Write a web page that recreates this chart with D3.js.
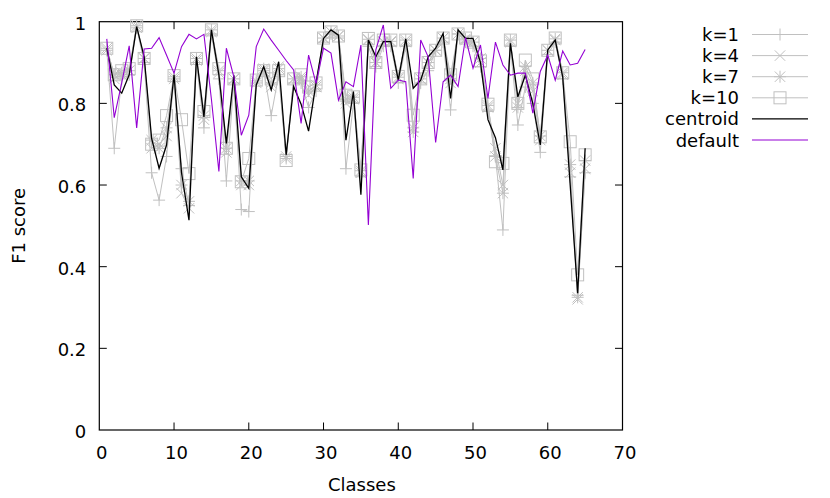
<!DOCTYPE html>
<html><head><meta charset="utf-8">
<script src="https://cdn.jsdelivr.net/npm/d3@7"></script>
<style>
body{margin:0;background:#fff;}
svg{display:block;font-family:"DejaVu Sans",sans-serif;}
</style></head>
<body><svg id="chart" width="830" height="498"></svg>
<script>
const classes = d3.range(1, 66);
const xTicks = [0,10,20,30,40,50,60,70];
const yTicks = [0,0.2,0.4,0.6,0.8,1];
const yTickLabels = ["0","0.2","0.4","0.6","0.8","1"];
const seriesNames = ["k=1","k=4","k=7","k=10","centroid","default"];

const k1 = [0.93,0.69,0.86,0.87,0.985,0.90,0.63,0.563,0.67,0.86,0.64,0.55,0.90,0.74,0.97,0.86,0.61,0.85,0.54,0.535,
0.85,0.88,0.77,0.87,0.67,0.85,0.85,0.79,0.83,0.95,0.97,0.96,0.64,0.80,0.62,0.94,0.89,0.94,0.94,0.85,
0.94,0.73,0.85,0.88,0.93,0.95,0.784,0.97,0.95,0.94,0.89,0.78,0.67,0.49,0.94,0.747,0.84,0.80,0.68,0.92,
0.95,0.86,0.62,0.33,0.63];
const k4 = [0.93,0.86,0.87,0.88,0.985,0.91,0.69,0.70,0.72,0.86,0.58,0.543,0.905,0.76,0.975,0.875,0.68,0.86,0.60,0.60,
0.85,0.88,0.84,0.89,0.67,0.86,0.86,0.82,0.84,0.96,0.975,0.965,0.80,0.81,0.63,0.955,0.90,0.95,0.95,0.86,
0.95,0.73,0.86,0.90,0.93,0.96,0.85,0.97,0.955,0.95,0.90,0.79,0.69,0.60,0.95,0.80,0.88,0.83,0.71,0.93,
0.955,0.87,0.63,0.32,0.64];
const k7 = [0.935,0.87,0.875,0.88,0.99,0.91,0.71,0.69,0.74,0.865,0.60,0.56,0.91,0.77,0.98,0.88,0.69,0.86,0.61,0.61,
0.855,0.885,0.85,0.885,0.665,0.86,0.865,0.83,0.845,0.96,0.975,0.965,0.81,0.815,0.635,0.957,0.90,0.952,0.952,0.864,
0.955,0.74,0.86,0.90,0.93,0.96,0.86,0.97,0.958,0.95,0.91,0.795,0.67,0.58,0.955,0.79,0.89,0.85,0.72,0.93,
0.958,0.875,0.65,0.325,0.66];
const k10 = [0.935,0.87,0.88,0.885,0.99,0.91,0.70,0.71,0.77,0.868,0.76,0.628,0.91,0.78,0.98,0.885,0.69,0.86,0.608,0.665,
0.857,0.88,0.86,0.88,0.66,0.86,0.87,0.84,0.85,0.96,0.975,0.965,0.82,0.816,0.637,0.959,0.90,0.955,0.955,0.866,
0.955,0.771,0.86,0.90,0.93,0.96,0.87,0.97,0.96,0.95,0.904,0.798,0.657,0.653,0.955,0.80,0.906,0.86,0.718,0.93,
0.96,0.875,0.706,0.38,0.674];
const centroid = [0.935,0.845,0.825,0.87,0.988,0.914,0.714,0.641,0.698,0.87,0.63,0.514,0.914,0.767,0.98,0.87,0.702,0.869,0.62,0.592,
0.845,0.89,0.833,0.902,0.674,0.841,0.798,0.732,0.85,0.959,0.98,0.967,0.71,0.829,0.576,0.955,0.914,0.951,0.951,0.857,
0.958,0.837,0.857,0.914,0.935,0.971,0.812,0.98,0.959,0.959,0.90,0.76,0.716,0.637,0.947,0.816,0.869,0.80,0.698,0.931,
0.955,0.865,0.60,0.335,0.69];
const defaultF1 = [0.958,0.765,0.85,0.941,0.74,0.933,0.935,0.961,0.918,0.874,0.939,0.969,0.958,0.969,0.81,0.633,0.935,0.865,0.722,0.771,
0.939,0.982,0.955,0.93,0.905,0.882,0.751,0.918,0.849,0.935,0.923,0.808,0.853,0.841,0.943,0.502,0.931,0.992,0.837,0.857,
0.853,0.616,0.955,0.914,0.704,0.853,0.869,0.841,0.961,0.886,0.943,0.812,0.95,0.894,0.869,0.874,0.874,0.776,0.878,0.918,
0.857,0.928,0.894,0.898,0.932];

const svg = d3.select("#chart");
const L = 99.3, R = 622.5, T = 21.7, B = 430;
const x = d3.scaleLinear().domain([0,70]).range([L,R]);
const y = d3.scaleLinear().domain([0,1]).range([B,T]);
const GRAY = "#c0c0c0", PURPLE = "#9400d3";
const FS = 18;

// axes ticks (inward, mirrored)
const tl = 7.5;
const g = svg.append("g").attr("stroke","#000").attr("stroke-width",1);
xTicks.slice(1,-1).forEach(v=>{
  g.append("line").attr("x1",x(v)).attr("x2",x(v)).attr("y1",B).attr("y2",B-tl);
  g.append("line").attr("x1",x(v)).attr("x2",x(v)).attr("y1",T).attr("y2",T+tl);
});
yTicks.slice(1,-1).forEach(v=>{
  g.append("line").attr("x1",L).attr("x2",L+tl).attr("y1",y(v)).attr("y2",y(v));
  g.append("line").attr("x1",R).attr("x2",R-tl).attr("y1",y(v)).attr("y2",y(v));
});
svg.append("rect").attr("x",L).attr("y",T).attr("width",R-L).attr("height",B-T)
  .attr("fill","none").attr("stroke","#000").attr("stroke-width",1.2);

xTicks.forEach(v=>{
  svg.append("text").attr("x",x(v)+2.5).attr("y",B+29).attr("text-anchor","middle")
    .attr("font-size",FS).text(v);
});
yTicks.forEach((v,i)=>{
  svg.append("text").attr("x",L-13).attr("y",y(v)+8).attr("text-anchor","end")
    .attr("font-size",FS).text(yTickLabels[i]);
});
svg.append("text").attr("x",(L+R)/2+1).attr("y",491).attr("text-anchor","middle")
  .attr("font-size",FS).text("Classes");
svg.append("text").attr("transform",`translate(25,${(T+B)/2}) rotate(-90)`)
  .attr("text-anchor","middle").attr("font-size",FS).text("F1 score");

// markers
function marker(sel, type, cx, cy){
  const s = 6;
  if(type==="plus"){
    sel.append("path").attr("d",`M${cx-s},${cy}H${cx+s}M${cx},${cy-s}V${cy+s}`);
  } else if(type==="cross"){
    const c=5.2;
    sel.append("path").attr("d",`M${cx-c},${cy-c}L${cx+c},${cy+c}M${cx-c},${cy+c}L${cx+c},${cy-c}`);
  } else if(type==="star"){
    const c=5.2;
    sel.append("path").attr("d",`M${cx-s},${cy}H${cx+s}M${cx},${cy-s}V${cy+s}M${cx-c},${cy-c}L${cx+c},${cy+c}M${cx-c},${cy+c}L${cx+c},${cy-c}`);
  } else if(type==="box"){
    sel.append("rect").attr("x",cx-s).attr("y",cy-s).attr("width",2*s).attr("height",2*s);
  }
}

const line = d3.line().x(d=>x(d[0])).y(d=>y(d[1]));
const series = [
  {name:seriesNames[0], data:k1, color:GRAY, w:1, m:"plus"},
  {name:seriesNames[1], data:k4, color:GRAY, w:1, m:"cross"},
  {name:seriesNames[2], data:k7, color:GRAY, w:1, m:"star"},
  {name:seriesNames[3], data:k10, color:GRAY, w:1, m:"box"},
  {name:seriesNames[4], data:centroid, color:"#000", w:1.3, m:null},
  {name:seriesNames[5], data:defaultF1, color:PURPLE, w:1.1, m:null}
];
const plot = svg.append("g");
series.forEach(s=>{
  const pts = classes.map((c,i)=>[c, s.data[i]]);
  plot.append("path").attr("d",line(pts)).attr("fill","none")
    .attr("stroke",s.color).attr("stroke-width",s.w).attr("stroke-linejoin","miter");
  if(s.m){
    const mg = plot.append("g").attr("stroke",s.color).attr("stroke-width",1).attr("fill","none");
    pts.forEach(p=>marker(mg, s.m, x(p[0]), y(p[1])));
  }
});

// legend
series.forEach((s,i)=>{
  const ly = 34.5 + 21.1*i;
  svg.append("text").attr("x",739).attr("y",ly+6.5).attr("text-anchor","end")
    .attr("font-size",FS).text(s.name);
  svg.append("line").attr("x1",752).attr("x2",808).attr("y1",ly).attr("y2",ly)
    .attr("stroke",s.color).attr("stroke-width",s.w);
  if(s.m){
    const mg = svg.append("g").attr("stroke",s.color).attr("stroke-width",1).attr("fill","none");
    marker(mg, s.m, 780, ly);
  }
});
</script></body></html>
